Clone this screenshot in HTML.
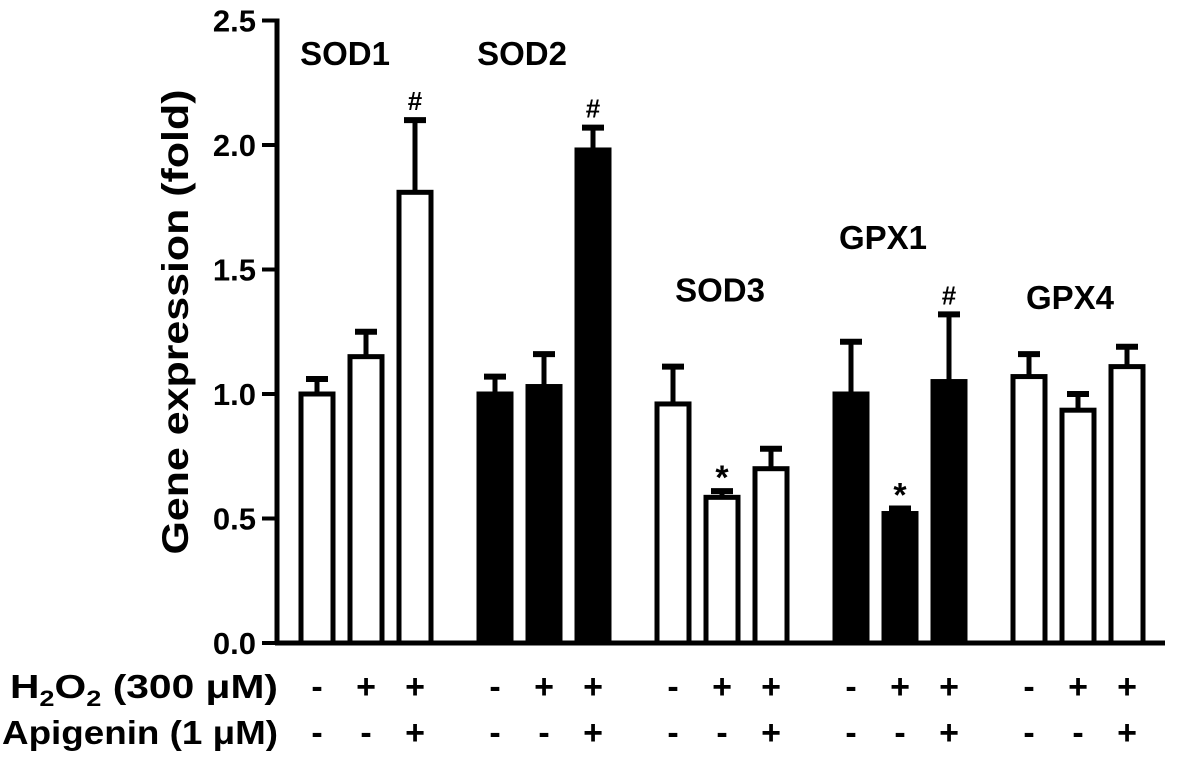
<!DOCTYPE html>
<html><head><meta charset="utf-8"><style>
body{margin:0;background:#fff;}
svg{display:block;font-family:"Liberation Sans",Arial,sans-serif;font-weight:bold;}
</style></head><body>
<svg id="chart" width="1181" height="764" viewBox="0 0 1181 764" xmlns="http://www.w3.org/2000/svg">
<g id="axis"></g>
<g id="bars"></g>
<g id="labels"></g>
<text transform="translate(188,322) rotate(-90)" text-anchor="middle" font-size="37" textLength="465" lengthAdjust="spacingAndGlyphs">Gene expression (fold)</text>
<text x="10" y="698" font-size="33" textLength="268" lengthAdjust="spacingAndGlyphs">H<tspan font-size="22" dy="8">2</tspan><tspan dy="-8">O</tspan><tspan font-size="22" dy="8">2</tspan><tspan dy="-8"> (300 μM)</tspan></text>
<text x="2" y="744" font-size="33" textLength="276" lengthAdjust="spacingAndGlyphs">Apigenin (1 μM)</text>
</svg>
<script>
const genes = ["SOD1","SOD2","SOD3","GPX1","GPX4"];
const means = [[1.00,1.15,1.81],[1.00,1.03,1.98],[0.96,0.585,0.70],[1.00,0.52,1.05],[1.07,0.935,1.11]];
const errs = [[0.06,0.10,0.29],[0.07,0.13,0.09],[0.15,0.025,0.08],[0.21,0.02,0.27],[0.09,0.065,0.08]];
const filled = [false,true,false,true,false];
const marks = [["","","#"],["","","#"],["","*",""],["","*","#"],["","",""]];
const h2o2 = ["-","+","+"];
const apig = ["-","-","+"];
const yTicks = [0,0.5,1.0,1.5,2.0,2.5];
const tickLabels = ["0.0","0.5","1.0","1.5","2.0","2.5"];
const geneLabelY = [2.37,2.37,1.42,1.63,1.39];
const geneLabelDx = [-21,-22,-2,-17,-8];

const NS="http://www.w3.org/2000/svg";
const y0=643, ppu=249;
function yS(v){return y0-v*ppu;}
function xS(g,i){return 317+g*178+i*49;}
function mk(tag,attrs,parent,txt){const e=document.createElementNS(NS,tag);for(const k in attrs)e.setAttribute(k,attrs[k]);if(txt!==undefined)e.textContent=txt;parent.appendChild(e);return e;}
const ax=document.getElementById('axis'), bg=document.getElementById('bars'), lg=document.getElementById('labels');
let l=mk('line',{x1:277,y1:yS(2.5)-2,x2:277,y2:y0+2,stroke:'#000','stroke-width':5},ax);


l=mk('line',{x1:275,y1:y0,x2:1165,y2:y0,stroke:'#000','stroke-width':5},ax);


yTicks.forEach((t,i)=>{
  const tk=mk('line',{x1:262,y1:yS(t),x2:277,y2:yS(t),stroke:'#000','stroke-width':4},ax);
  
  
  const tl=mk('text',{x:256,y:yS(t)+11,'text-anchor':'end','font-size':31},ax,tickLabels[i]);
  
  
});
genes.forEach((g,gi)=>{
  for(let i=0;i<3;i++){
    const cx=xS(gi,i), v=means[gi][i], e=errs[gi][i];
    const top=yS(v+e);
    const el=mk('line',{x1:cx,y1:top,x2:cx,y2:yS(v),stroke:'#000','stroke-width':5},bg);
    
    
    const cap=mk('line',{x1:cx-11,y1:top,x2:cx+11,y2:top,stroke:'#000','stroke-width':6},bg);
    
    
    const r=mk('rect',{x:cx-16,y:yS(v),width:32,height:y0-yS(v),fill:filled[gi]?'#000':'#fff',stroke:'#000','stroke-width':5},bg);
    
    
    if(marks[gi][i]){
      const isStar=marks[gi][i]=="*";
      const m=mk('text',{x:cx,y:top-(isStar?2:10),'text-anchor':'middle','font-size':isStar?34:26},lg,marks[gi][i]);
      
      
    }
    const a=mk('text',{x:cx,y:698,'text-anchor':'middle','font-size':34},lg,h2o2[i]);
    
    
    const b=mk('text',{x:cx,y:744,'text-anchor':'middle','font-size':34},lg,apig[i]);
    
    
  }
  const gl=mk('text',{x:xS(gi,1)+geneLabelDx[gi],y:yS(geneLabelY[gi])+12,'text-anchor':'middle','font-size':33},lg,g);
  
  
});
</script>
</body></html>
